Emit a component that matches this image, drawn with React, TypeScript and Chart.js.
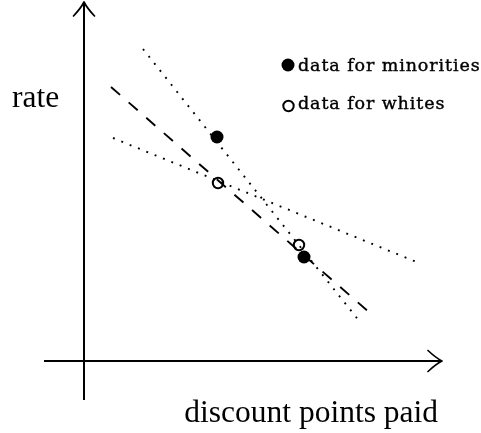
import React, { useEffect, useRef } from 'react';
import { Chart, registerables } from 'chart.js';

Chart.register(...registerables);

// Data (arbitrary units; origin at axes crossing)
const minoritiesX = [13.3, 22.0];
const minoritiesY = [22.4, 10.4];
const whitesX = [13.4, 21.5];
const whitesY = [17.8, 11.6];
const steepLineX = [5.9, 27.6];
const steepLineY = [31.2, 3.9];
const shallowLineX = [2.9, 33.5];
const shallowLineY = [22.3, 9.8];
const dashedLineX = [2.7, 28.6];
const dashedLineY = [27.4, 4.8];

const xAxisMin = -4.0;
const xAxisMax = 35.8;
const yAxisMin = -3.9;
const yAxisMax = 35.9;

const xLabel = 'discount points paid';
const yLabel = 'rate';
const legendLabels = ['data for minorities', 'data for whites'];

const pts = (xs: number[], ys: number[]) => xs.map((x, i) => ({ x, y: ys[i] }));

const decorPlugin = {
  id: 'decor',
  beforeDatasetsDraw(chart: any) {
    const { ctx, scales } = chart;
    const x = scales.x;
    const y = scales.y;
    const x0 = x.getPixelForValue(0);
    const y0 = y.getPixelForValue(0);
    ctx.save();
    ctx.strokeStyle = '#000';
    ctx.lineWidth = 2;
    ctx.beginPath();
    ctx.moveTo(x.left, y0);
    ctx.lineTo(x.right - 1, y0);
    ctx.moveTo(x0, y.bottom);
    ctx.lineTo(x0, y.top + 1);
    ctx.stroke();
    // arrow heads
    ctx.lineWidth = 1.7;
    ctx.lineCap = 'round';
    ctx.lineJoin = 'round';
    const tx = x.right;
    ctx.beginPath();
    ctx.moveTo(tx - 14, y0 - 10.5);
    ctx.quadraticCurveTo(tx - 6, y0 - 3, tx, y0);
    ctx.quadraticCurveTo(tx - 6, y0 + 3, tx - 14, y0 + 10.5);
    ctx.stroke();
    const ty = y.top;
    ctx.beginPath();
    ctx.moveTo(x0 - 10.5, ty + 14);
    ctx.quadraticCurveTo(x0 - 3, ty + 6, x0, ty);
    ctx.quadraticCurveTo(x0 + 3, ty + 6, x0 + 10.5, ty + 14);
    ctx.stroke();
    ctx.restore();
  },
  afterDraw(chart: any) {
    const { ctx } = chart;
    ctx.save();
    ctx.fillStyle = '#000';
    ctx.textBaseline = 'alphabetic';
    ctx.font = '31.5px "Liberation Serif", serif';
    ctx.textAlign = 'left';
    ctx.fillText(yLabel, 12, 107);
    ctx.textAlign = 'right';
    ctx.fillText(xLabel, 438, 422);

    // legend
    const ds0 = chart.data.datasets[0];
    const ds1 = chart.data.datasets[1];
    ctx.beginPath();
    ctx.arc(288, 65, ds0.pointRadius, 0, Math.PI * 2);
    ctx.fillStyle = ds0.backgroundColor;
    ctx.fill();
    ctx.beginPath();
    ctx.arc(288.5, 106, ds1.pointRadius, 0, Math.PI * 2);
    ctx.lineWidth = ds1.borderWidth;
    ctx.strokeStyle = ds1.borderColor;
    ctx.stroke();

    ctx.fillStyle = '#000';
    ctx.strokeStyle = '#000';
    ctx.lineWidth = 0.4;
    ctx.textAlign = 'left';
    ctx.font = '17.5px "DejaVu Serif", serif';
    try { (ctx as any).letterSpacing = '0.9px'; } catch (e) {}
    ctx.fillText(legendLabels[0], 298, 70.5);
    ctx.strokeText(legendLabels[0], 298, 70.5);
    ctx.fillText(legendLabels[1], 298, 108.5);
    ctx.strokeText(legendLabels[1], 298, 108.5);
    try { (ctx as any).letterSpacing = '0px'; } catch (e) {}
    ctx.restore();
  },
};

export default function App() {
  const ref = useRef<HTMLCanvasElement | null>(null);
  useEffect(() => {
    document.body.style.margin = '0';
    const canvas = ref.current;
    if (!canvas) return;
    const lineStyle = {
      type: 'line' as const,
      borderColor: '#000',
      borderWidth: 1.9,
      pointRadius: 0,
      fill: false,
      tension: 0,
      order: 2,
    };
    const chart = new Chart(canvas, {
      type: 'scatter',
      data: {
        datasets: [
          {
            label: legendLabels[0],
            data: pts(minoritiesX, minoritiesY),
            pointRadius: 6.5,
            backgroundColor: '#000',
            borderColor: '#000',
            borderWidth: 0,
            order: 0,
          } as any,
          {
            label: legendLabels[1],
            data: pts(whitesX, whitesY),
            pointRadius: 5.2,
            backgroundColor: 'rgba(0,0,0,0)',
            borderColor: '#000',
            borderWidth: 2,
            order: 0,
          } as any,
          { ...lineStyle, label: 'steep', data: pts(steepLineX, steepLineY), borderDash: [1.9, 7.1] } as any,
          { ...lineStyle, label: 'shallow', data: pts(shallowLineX, shallowLineY), borderDash: [1.9, 7.1] } as any,
          { ...lineStyle, label: 'dashed', data: pts(dashedLineX, dashedLineY), borderDash: [12, 11.4] } as any,
        ],
      },
      options: {
        responsive: false,
        animation: false,
        events: [],
        layout: { autoPadding: false, padding: { left: 44, right: 39, top: 2, bottom: 33 } },
        scales: {
          x: { type: 'linear', min: xAxisMin, max: xAxisMax, display: false },
          y: { type: 'linear', min: yAxisMin, max: yAxisMax, display: false },
        },
        plugins: {
          legend: { display: false },
          tooltip: { enabled: false },
        },
      },
      plugins: [decorPlugin],
    });
    return () => chart.destroy();
  }, []);
  return <canvas ref={ref} width={481} height={433} style={{ display: 'block' }} />;
}
